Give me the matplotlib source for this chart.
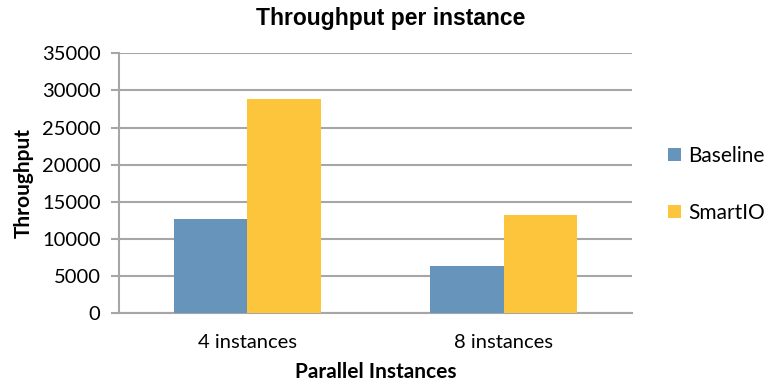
import matplotlib
matplotlib.use("Agg")
import matplotlib.pyplot as plt
import numpy as np

categories = ["4 instances", "8 instances"]
baseline = [12700, 6350]
smartio = [28900, 13200]
yticks = [0, 5000, 10000, 15000, 20000, 25000, 30000, 35000]

BLUE = "#6794BA"
YELLOW = "#FDC53B"
GRID = "#A6A6A6"
FONT = "Lato"

fig = plt.figure(figsize=(7.82, 3.89), dpi=100)
ax = fig.add_axes([0.1526, 0.1946, 0.6552, 0.6684])

x = np.arange(len(categories))
w = 0.286
ax.bar(x - w / 2, baseline, w, color=BLUE, label="Baseline", zorder=3)
ax.bar(x + w / 2, smartio, w, color=YELLOW, label="SmartIO", zorder=3)

ax.set_xlim(-0.5, 1.5)
ax.set_ylim(0, 35000)
ax.set_yticks(yticks)
ax.set_yticklabels([str(v) for v in yticks], family=FONT, fontsize=14.5)
ax.set_xticks(x)
ax.set_xticklabels(categories, family=FONT, fontsize=14.5)
ax.yaxis.grid(True, color=GRID, linewidth=1.5, zorder=0)
ax.set_axisbelow(True)

for s in ("top", "right"):
    ax.spines[s].set_visible(False)
for s in ("left", "bottom"):
    ax.spines[s].set_color(GRID)
    ax.spines[s].set_linewidth(1.5)
ax.tick_params(axis="y", length=5.5, color=GRID, width=1.5, pad=8)
ax.tick_params(axis="x", length=0, pad=15)

ax.set_ylabel("Throughput", family=FONT, fontsize=15, fontweight="bold", labelpad=6)
ax.set_xlabel("Parallel Instances", family=FONT, fontsize=15, fontweight="bold", labelpad=8)

fig.text(0.5, 0.953, "Throughput per instance", ha="center", va="center",
         family="Liberation Sans", fontsize=16.5, fontweight="bold")

leg = ax.legend(loc="center left", bbox_to_anchor=(1.071, 0.496), frameon=False,
                borderaxespad=0, borderpad=0,
                prop={"family": FONT, "size": 15}, handlelength=0.62, handleheight=0.62,
                handletextpad=0.34, labelspacing=1.79)

fig.savefig("out.png", dpi=100)
